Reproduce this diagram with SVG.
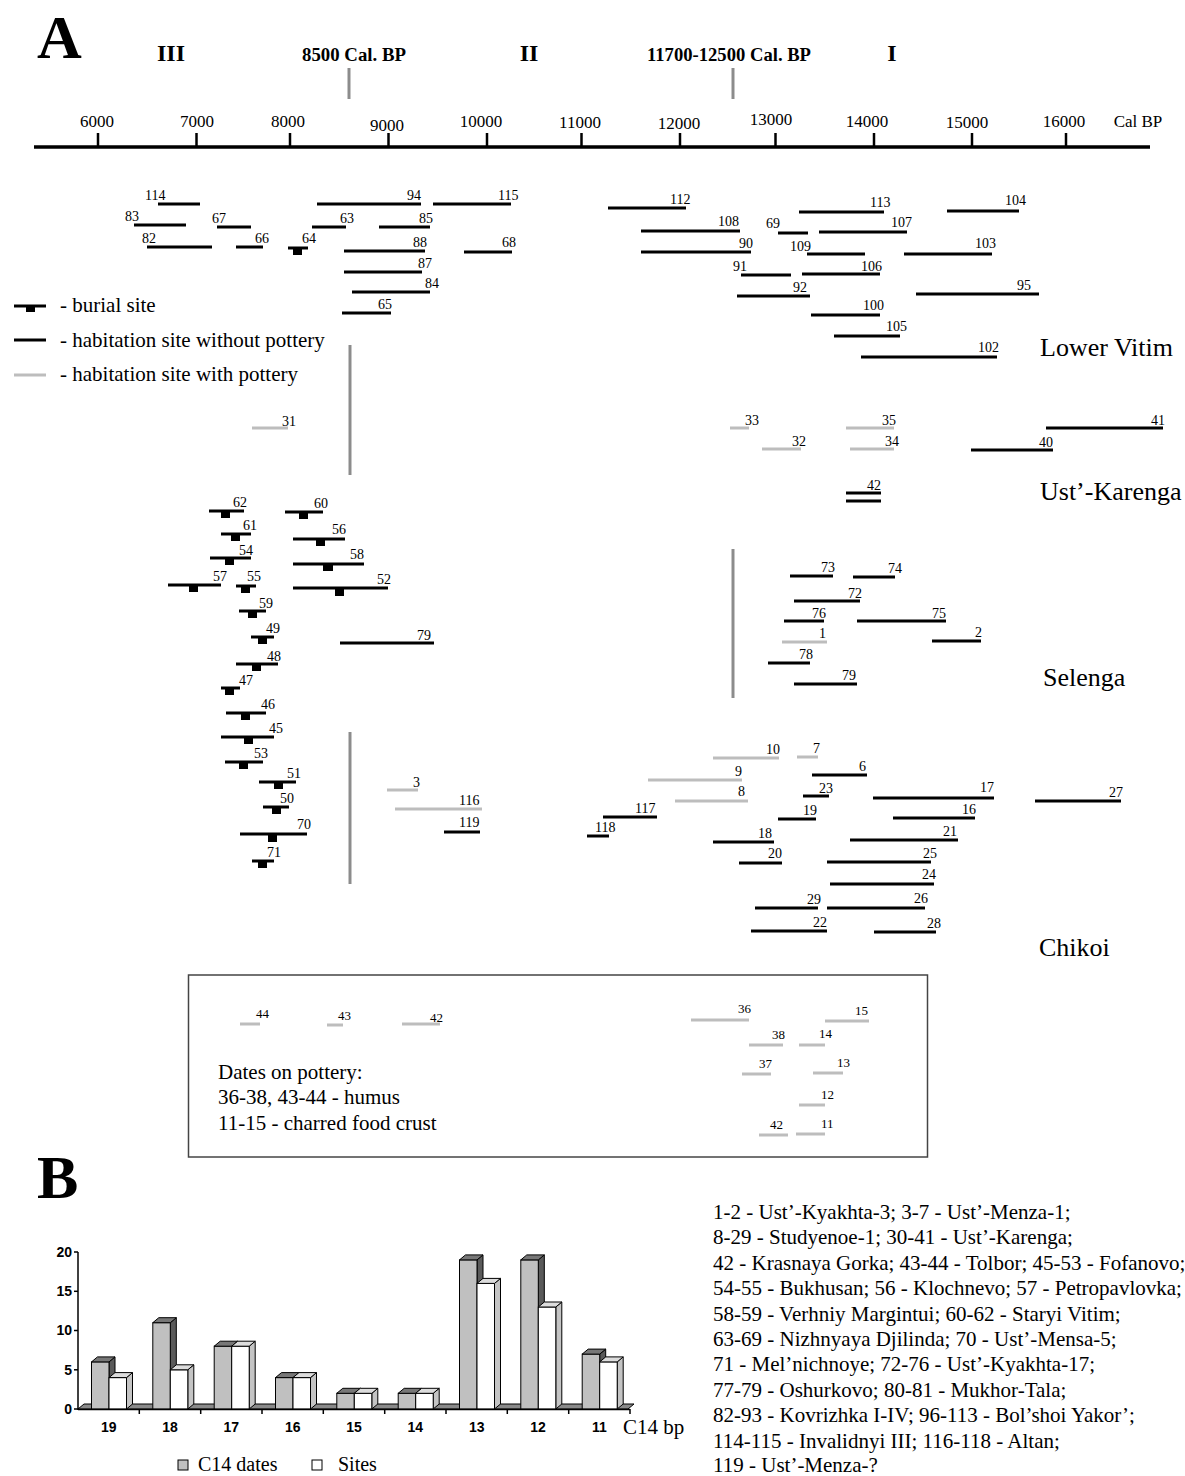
<svg xmlns="http://www.w3.org/2000/svg" width="1185" height="1476" viewBox="0 0 1185 1476">
<style>
.k{stroke:#000;stroke-width:3}
.g{stroke:#bdbdbd;stroke-width:3}
.d{stroke:#8c8c8c;stroke-width:3}
.blk{fill:#000}
text{font-family:"Liberation Serif","Times New Roman",serif;fill:#000}
.n{font-size:14px}
.s{font-size:13px}
.tk{font-size:17px;text-anchor:middle}
.hb{font-size:18px;font-weight:bold}
.rm{font-size:24px;font-weight:bold;text-anchor:middle}
.big{font-size:62px;font-weight:bold}
.reg{font-size:26px}
.t{font-size:21px}
.l{font-size:21px}
.lg{font-size:20px}
.ch{font-family:"Liberation Sans",Arial,sans-serif;font-size:14px;font-weight:bold}
.gf{fill:#c0c0c0;stroke:#000;stroke-width:1}
.gt{fill:#777;stroke:#000;stroke-width:1}
.gs{fill:#5a5a5a;stroke:#000;stroke-width:1}
.wf{fill:#fff;stroke:#000;stroke-width:1}
.wt{fill:#dcdcdc;stroke:#000;stroke-width:1}
.ws{fill:#c4c4c4;stroke:#000;stroke-width:1}
</style>

<!-- Header / axis -->
<g id="header">
<text class="big" x="37" y="58">A</text>
<text class="rm" x="171" y="61">III</text>
<text class="hb" x="302" y="61" textLength="104" lengthAdjust="spacingAndGlyphs">8500 Cal. BP</text>
<text class="rm" x="529" y="61">II</text>
<text class="hb" x="647" y="61" textLength="164" lengthAdjust="spacingAndGlyphs">11700-12500 Cal. BP</text>
<text class="rm" x="892" y="61">I</text>
<line class="d" x1="349" y1="68" x2="349" y2="99"/>
<line class="d" x1="733" y1="68" x2="733" y2="99"/>
</g>
<g id="axis">
<line x1="34" y1="147" x2="1150" y2="147" stroke="#000" stroke-width="3.5"/>
<g stroke="#000" stroke-width="2.5">
<line x1="98" y1="133" x2="98" y2="147"/>
<line x1="196.5" y1="133" x2="196.5" y2="147"/>
<line x1="290" y1="133" x2="290" y2="147"/>
<line x1="388.5" y1="133" x2="388.5" y2="147"/>
<line x1="487" y1="133" x2="487" y2="147"/>
<line x1="581.5" y1="133" x2="581.5" y2="147"/>
<line x1="680" y1="133" x2="680" y2="147"/>
<line x1="775.5" y1="133" x2="775.5" y2="147"/>
<line x1="874" y1="133" x2="874" y2="147"/>
<line x1="972" y1="133" x2="972" y2="147"/>
<line x1="1066" y1="133" x2="1066" y2="147"/>
</g>
<text class="tk" x="97" y="127">6000</text>
<text class="tk" x="197" y="127">7000</text>
<text class="tk" x="288" y="127">8000</text>
<text class="tk" x="387" y="131">9000</text>
<text class="tk" x="481" y="127">10000</text>
<text class="tk" x="580" y="128">11000</text>
<text class="tk" x="679" y="129">12000</text>
<text class="tk" x="771" y="125">13000</text>
<text class="tk" x="867" y="127">14000</text>
<text class="tk" x="967" y="128">15000</text>
<text class="tk" x="1064" y="127">16000</text>
<text class="tk" x="1138" y="127">Cal BP</text>
</g>

<!-- Dividers -->
<g id="connectors">
<line class="d" x1="350" y1="345" x2="350" y2="475"/>
<line class="d" x1="350" y1="732" x2="350" y2="884"/>
<line class="d" x1="733" y1="549" x2="733" y2="698"/>
</g>

<!-- Legend -->
<g id="legend">
<line class="k" x1="14" y1="306" x2="46" y2="306"/><rect class="blk" x="26" y="306" width="9" height="6"/>
<text class="t" x="60" y="312">- burial site</text>
<line class="k" x1="14" y1="340" x2="46" y2="340"/>
<text class="t" x="60" y="347">- habitation site without pottery</text>
<line class="g" x1="14" y1="375" x2="46" y2="375"/>
<text class="t" x="60" y="381">- habitation site with pottery</text>
</g>

<!-- Region labels -->
<g id="regions">
<text class="reg" x="1040" y="356">Lower Vitim</text>
<text class="reg" x="1040" y="500">Ust’-Karenga</text>
<text class="reg" x="1043" y="686">Selenga</text>
<text class="reg" x="1039" y="956">Chikoi</text>
</g>

<!-- Lower Vitim -->
<g id="lower-vitim">
<g id="n114"><line class="k" x1="158" y1="204" x2="200" y2="204"/><text class="n" x="145" y="200">114</text></g>
<g id="n94"><line class="k" x1="317" y1="204" x2="421" y2="204"/><text class="n" x="407" y="200">94</text></g>
<g id="n115"><line class="k" x1="433" y1="204" x2="511" y2="204"/><text class="n" x="498" y="200">115</text></g>
<g id="n83"><line class="k" x1="134" y1="225" x2="186" y2="225"/><text class="n" x="125" y="221">83</text></g>
<g id="n67"><line class="k" x1="217" y1="227" x2="251" y2="227"/><text class="n" x="212" y="223">67</text></g>
<g id="n63"><line class="k" x1="312" y1="227" x2="346" y2="227"/><text class="n" x="340" y="223">63</text></g>
<g id="n85"><line class="k" x1="379" y1="227" x2="430" y2="227"/><text class="n" x="419" y="223">85</text></g>
<g id="n82"><line class="k" x1="147" y1="247" x2="212" y2="247"/><text class="n" x="142" y="243">82</text></g>
<g id="n66"><line class="k" x1="236" y1="247" x2="263" y2="247"/><text class="n" x="255" y="243">66</text></g>
<g id="n64"><line class="k" x1="288" y1="248" x2="308" y2="248"/><rect class="blk" x="293" y="248" width="9" height="7"/><text class="n" x="302" y="243">64</text></g>
<g id="n88"><line class="k" x1="344" y1="251" x2="425" y2="251"/><text class="n" x="413" y="247">88</text></g>
<g id="n68"><line class="k" x1="464" y1="252" x2="512" y2="252"/><text class="n" x="502" y="247">68</text></g>
<g id="n87"><line class="k" x1="344" y1="272" x2="422" y2="272"/><text class="n" x="418" y="268">87</text></g>
<g id="n84"><line class="k" x1="352" y1="292" x2="430" y2="292"/><text class="n" x="425" y="288">84</text></g>
<g id="n65"><line class="k" x1="342" y1="313" x2="391" y2="313"/><text class="n" x="378" y="309">65</text></g>
<g id="n112"><line class="k" x1="608" y1="208" x2="686" y2="208"/><text class="n" x="670" y="204">112</text></g>
<g id="n113"><line class="k" x1="799" y1="212" x2="884" y2="212"/><text class="n" x="870" y="207">113</text></g>
<g id="n104"><line class="k" x1="947" y1="211" x2="1019" y2="211"/><text class="n" x="1005" y="205">104</text></g>
<g id="n108"><line class="k" x1="641" y1="231" x2="740" y2="231"/><text class="n" x="718" y="226">108</text></g>
<g id="n69"><line class="k" x1="778" y1="233" x2="808" y2="233"/><text class="n" x="766" y="228">69</text></g>
<g id="n107"><line class="k" x1="819" y1="232" x2="907" y2="232"/><text class="n" x="891" y="227">107</text></g>
<g id="n90"><line class="k" x1="641" y1="252" x2="751" y2="252"/><text class="n" x="739" y="248">90</text></g>
<g id="n109"><line class="k" x1="807" y1="254" x2="865" y2="254"/><text class="n" x="790" y="251">109</text></g>
<g id="n103"><line class="k" x1="904" y1="254" x2="992" y2="254"/><text class="n" x="975" y="248">103</text></g>
<g id="n91"><line class="k" x1="741" y1="275" x2="791" y2="275"/><text class="n" x="733" y="271">91</text></g>
<g id="n106"><line class="k" x1="802" y1="274" x2="880" y2="274"/><text class="n" x="861" y="271">106</text></g>
<g id="n92"><line class="k" x1="737" y1="296" x2="810" y2="296"/><text class="n" x="793" y="292">92</text></g>
<g id="n95"><line class="k" x1="916" y1="294" x2="1039" y2="294"/><text class="n" x="1017" y="290">95</text></g>
<g id="n100"><line class="k" x1="811" y1="315" x2="880" y2="315"/><text class="n" x="863" y="310">100</text></g>
<g id="n105"><line class="k" x1="834" y1="336" x2="900" y2="336"/><text class="n" x="886" y="331">105</text></g>
<g id="n102"><line class="k" x1="861" y1="357" x2="997" y2="357"/><text class="n" x="978" y="352">102</text></g>
</g>

<!-- Ust'-Karenga -->
<g id="ust-karenga">
<g id="n31"><line class="g" x1="252" y1="428" x2="288" y2="428"/><text class="n" x="282" y="426">31</text></g>
<g id="n33"><line class="g" x1="730" y1="428" x2="749" y2="428"/><text class="n" x="745" y="425">33</text></g>
<g id="n35"><line class="g" x1="846" y1="428" x2="894" y2="428"/><text class="n" x="882" y="425">35</text></g>
<g id="n41"><line class="k" x1="1046" y1="428" x2="1163" y2="428"/><text class="n" x="1151" y="425">41</text></g>
<g id="n32"><line class="g" x1="762" y1="449" x2="801" y2="449"/><text class="n" x="792" y="446">32</text></g>
<g id="n34"><line class="g" x1="850" y1="449" x2="894" y2="449"/><text class="n" x="885" y="446">34</text></g>
<g id="n40"><line class="k" x1="971" y1="450" x2="1053" y2="450"/><text class="n" x="1039" y="447">40</text></g>
<g id="n42a"><line class="k" x1="846" y1="493" x2="881" y2="493"/><line class="k" x1="846" y1="501" x2="881" y2="501"/><text class="n" x="867" y="490">42</text></g>
</g>

<!-- Selenga -->
<g id="selenga">
<g id="n62"><line class="k" x1="209" y1="511" x2="244" y2="511"/><rect class="blk" x="221" y="511" width="9" height="7"/><text class="n" x="233" y="507">62</text></g>
<g id="n60"><line class="k" x1="285" y1="512" x2="323" y2="512"/><rect class="blk" x="299" y="512" width="9" height="7"/><text class="n" x="314" y="508">60</text></g>
<g id="n61"><line class="k" x1="221" y1="534" x2="251" y2="534"/><rect class="blk" x="231" y="534" width="9" height="7"/><text class="n" x="243" y="530">61</text></g>
<g id="n56"><line class="k" x1="293" y1="539" x2="345" y2="539"/><rect class="blk" x="316" y="539" width="9" height="7"/><text class="n" x="332" y="534">56</text></g>
<g id="n54"><line class="k" x1="210" y1="558" x2="251" y2="558"/><rect class="blk" x="225" y="558" width="9" height="7"/><text class="n" x="239" y="555">54</text></g>
<g id="n58"><line class="k" x1="293" y1="564" x2="364" y2="564"/><rect class="blk" x="323" y="564" width="10" height="7"/><text class="n" x="350" y="559">58</text></g>
<g id="n57"><line class="k" x1="168" y1="585" x2="221" y2="585"/><rect class="blk" x="189" y="585" width="9" height="7"/><text class="n" x="213" y="581">57</text></g>
<g id="n55"><line class="k" x1="236" y1="586" x2="256" y2="586"/><rect class="blk" x="241" y="586" width="9" height="7"/><text class="n" x="247" y="581">55</text></g>
<g id="n52"><line class="k" x1="293" y1="588" x2="388" y2="588"/><rect class="blk" x="335" y="588" width="9" height="8"/><text class="n" x="377" y="584">52</text></g>
<g id="n59"><line class="k" x1="239" y1="611" x2="266" y2="611"/><rect class="blk" x="248" y="611" width="9" height="7"/><text class="n" x="259" y="608">59</text></g>
<g id="n49"><line class="k" x1="251" y1="637" x2="274" y2="637"/><rect class="blk" x="258" y="637" width="9" height="7"/><text class="n" x="266" y="633">49</text></g>
<g id="n79a"><line class="k" x1="340" y1="643" x2="434" y2="643"/><text class="n" x="417" y="640">79</text></g>
<g id="n48"><line class="k" x1="236" y1="664" x2="278" y2="664"/><rect class="blk" x="252" y="664" width="9" height="7"/><text class="n" x="267" y="661">48</text></g>
<g id="n47"><line class="k" x1="221" y1="688" x2="240" y2="688"/><rect class="blk" x="225" y="688" width="9" height="7"/><text class="n" x="239" y="685">47</text></g>
<g id="n46"><line class="k" x1="226" y1="713" x2="266" y2="713"/><rect class="blk" x="241" y="713" width="9" height="7"/><text class="n" x="261" y="709">46</text></g>
<g id="n45"><line class="k" x1="221" y1="737" x2="274" y2="737"/><rect class="blk" x="244" y="737" width="9" height="7"/><text class="n" x="269" y="733">45</text></g>
<g id="n53"><line class="k" x1="225" y1="762" x2="263" y2="762"/><rect class="blk" x="239" y="762" width="9" height="7"/><text class="n" x="254" y="758">53</text></g>
<g id="n73"><line class="k" x1="790" y1="576" x2="833" y2="576"/><text class="n" x="821" y="572">73</text></g>
<g id="n74"><line class="k" x1="853" y1="577" x2="895" y2="577"/><text class="n" x="888" y="573">74</text></g>
<g id="n72"><line class="k" x1="794" y1="601" x2="860" y2="601"/><text class="n" x="848" y="598">72</text></g>
<g id="n76"><line class="k" x1="784" y1="621" x2="824" y2="621"/><text class="n" x="812" y="618">76</text></g>
<g id="n75"><line class="k" x1="857" y1="621" x2="946" y2="621"/><text class="n" x="932" y="618">75</text></g>
<g id="n1"><line class="g" x1="782" y1="642" x2="827" y2="642"/><text class="n" x="819" y="638">1</text></g>
<g id="n2"><line class="k" x1="932" y1="641" x2="981" y2="641"/><text class="n" x="975" y="637">2</text></g>
<g id="n78"><line class="k" x1="768" y1="663" x2="810" y2="663"/><text class="n" x="799" y="659">78</text></g>
<g id="n79b"><line class="k" x1="794" y1="684" x2="857" y2="684"/><text class="n" x="842" y="680">79</text></g>
</g>

<!-- Chikoi -->
<g id="chikoi">
<g id="n51"><line class="k" x1="259" y1="782" x2="296" y2="782"/><rect class="blk" x="274" y="782" width="9" height="7"/><text class="n" x="287" y="778">51</text></g>
<g id="n50"><line class="k" x1="263" y1="807" x2="289" y2="807"/><rect class="blk" x="272" y="807" width="9" height="7"/><text class="n" x="280" y="803">50</text></g>
<g id="n70"><line class="k" x1="240" y1="834" x2="307" y2="834"/><rect class="blk" x="268" y="834" width="9" height="8"/><text class="n" x="297" y="829">70</text></g>
<g id="n71"><line class="k" x1="252" y1="861" x2="274" y2="861"/><rect class="blk" x="258" y="861" width="9" height="7"/><text class="n" x="267" y="857">71</text></g>
<g id="n3"><line class="g" x1="387" y1="790" x2="418" y2="790"/><text class="n" x="413" y="787">3</text></g>
<g id="n116"><line class="g" x1="395" y1="809" x2="482" y2="809"/><text class="n" x="459" y="805">116</text></g>
<g id="n119"><line class="k" x1="444" y1="832" x2="480" y2="832"/><text class="n" x="459" y="827">119</text></g>
<g id="n117"><line class="k" x1="603" y1="817" x2="657" y2="817"/><text class="n" x="635" y="813">117</text></g>
<g id="n118"><line class="k" x1="587" y1="836" x2="609" y2="836"/><text class="n" x="595" y="832">118</text></g>
<g id="n10"><line class="g" x1="713" y1="758" x2="779" y2="758"/><text class="n" x="766" y="754">10</text></g>
<g id="n7"><line class="g" x1="797" y1="757" x2="818" y2="757"/><text class="n" x="813" y="753">7</text></g>
<g id="n9"><line class="g" x1="648" y1="780" x2="742" y2="780"/><text class="n" x="735" y="776">9</text></g>
<g id="n6"><line class="k" x1="812" y1="775" x2="867" y2="775"/><text class="n" x="859" y="771">6</text></g>
<g id="n8"><line class="g" x1="675" y1="801" x2="748" y2="801"/><text class="n" x="738" y="796">8</text></g>
<g id="n23"><line class="k" x1="803" y1="796" x2="829" y2="796"/><text class="n" x="819" y="793">23</text></g>
<g id="n17"><line class="k" x1="873" y1="798" x2="994" y2="798"/><text class="n" x="980" y="792">17</text></g>
<g id="n27"><line class="k" x1="1035" y1="801" x2="1121" y2="801"/><text class="n" x="1109" y="797">27</text></g>
<g id="n19"><line class="k" x1="778" y1="819" x2="816" y2="819"/><text class="n" x="803" y="815">19</text></g>
<g id="n16"><line class="k" x1="893" y1="818" x2="975" y2="818"/><text class="n" x="962" y="814">16</text></g>
<g id="n18"><line class="k" x1="713" y1="842" x2="774" y2="842"/><text class="n" x="758" y="838">18</text></g>
<g id="n21"><line class="k" x1="850" y1="840" x2="958" y2="840"/><text class="n" x="943" y="836">21</text></g>
<g id="n20"><line class="k" x1="739" y1="863" x2="782" y2="863"/><text class="n" x="768" y="858">20</text></g>
<g id="n25"><line class="k" x1="827" y1="862" x2="931" y2="862"/><text class="n" x="923" y="858">25</text></g>
<g id="n24"><line class="k" x1="830" y1="884" x2="934" y2="884"/><text class="n" x="922" y="879">24</text></g>
<g id="n29"><line class="k" x1="755" y1="908" x2="818" y2="908"/><text class="n" x="807" y="904">29</text></g>
<g id="n26"><line class="k" x1="827" y1="908" x2="925" y2="908"/><text class="n" x="914" y="903">26</text></g>
<g id="n22"><line class="k" x1="751" y1="931" x2="827" y2="931"/><text class="n" x="813" y="927">22</text></g>
<g id="n28"><line class="k" x1="874" y1="932" x2="936" y2="932"/><text class="n" x="927" y="928">28</text></g>
</g>

<!-- Pottery box -->
<g id="pottery-box">
<rect x="188.5" y="975" width="739" height="182" fill="none" stroke="#444" stroke-width="1.5"/>
<g id="n44"><line class="g" x1="240" y1="1024" x2="260" y2="1024"/><text class="s" x="256" y="1018">44</text></g>
<g id="n43"><line class="g" x1="327" y1="1025" x2="343" y2="1025"/><text class="s" x="338" y="1020">43</text></g>
<g id="n42b"><line class="g" x1="402" y1="1024" x2="440" y2="1024"/><text class="s" x="430" y="1022">42</text></g>
<g id="n36"><line class="g" x1="691" y1="1020" x2="749" y2="1020"/><text class="s" x="738" y="1013">36</text></g>
<g id="n15"><line class="g" x1="825" y1="1021" x2="869" y2="1021"/><text class="s" x="855" y="1015">15</text></g>
<g id="n38"><line class="g" x1="749" y1="1045" x2="783" y2="1045"/><text class="s" x="772" y="1039">38</text></g>
<g id="n14"><line class="g" x1="799" y1="1045" x2="825" y2="1045"/><text class="s" x="819" y="1038">14</text></g>
<g id="n37"><line class="g" x1="742" y1="1074" x2="771" y2="1074"/><text class="s" x="759" y="1068">37</text></g>
<g id="n13"><line class="g" x1="813" y1="1073" x2="843" y2="1073"/><text class="s" x="837" y="1067">13</text></g>
<g id="n12"><line class="g" x1="799" y1="1105" x2="825" y2="1105"/><text class="s" x="821" y="1099">12</text></g>
<g id="n42c"><line class="g" x1="759" y1="1135" x2="788" y2="1135"/><text class="s" x="770" y="1129">42</text></g>
<g id="n11"><line class="g" x1="796" y1="1134" x2="825" y2="1134"/><text class="s" x="821" y="1128">11</text></g>
<text class="t" x="218" y="1079">Dates on pottery:</text>
<text class="t" x="218" y="1104">36-38, 43-44 - humus</text>
<text class="t" x="218" y="1130">11-15 - charred food crust</text>
</g>

<!-- Chart B -->
<g id="chart-b">
<text class="big" x="37" y="1198">B</text>
<polygon points="78,1409 628,1409 634,1404 84,1404" fill="#8a8a8a" stroke="#000" stroke-width="1"/>
<g id="bar19">
<polygon class="gs" points="109,1361.9 115,1356.9 115,1404 109,1409"/><rect class="gf" x="91.5" y="1361.9" width="17.5" height="47.1"/><polygon class="gt" points="91.5,1361.9 97.5,1356.9 115,1356.9 109,1361.9"/>
<polygon class="ws" points="126.5,1377.6 132.5,1372.6 132.5,1404 126.5,1409"/><rect class="wf" x="109" y="1377.6" width="17.5" height="31.4"/><polygon class="wt" points="109,1377.6 115,1372.6 132.5,1372.6 126.5,1377.6"/>
</g>
<g id="bar18">
<polygon class="gs" points="170.3,1322.7 176.3,1317.7 176.3,1404 170.3,1409"/><rect class="gf" x="152.8" y="1322.7" width="17.5" height="86.3"/><polygon class="gt" points="152.8,1322.7 158.8,1317.7 176.3,1317.7 170.3,1322.7"/>
<polygon class="ws" points="187.8,1369.8 193.8,1364.8 193.8,1404 187.8,1409"/><rect class="wf" x="170.3" y="1369.8" width="17.5" height="39.2"/><polygon class="wt" points="170.3,1369.8 176.3,1364.8 193.8,1364.8 187.8,1369.8"/>
</g>
<g id="bar17">
<polygon class="gs" points="231.7,1346.2 237.7,1341.2 237.7,1404 231.7,1409"/><rect class="gf" x="214.2" y="1346.2" width="17.5" height="62.8"/><polygon class="gt" points="214.2,1346.2 220.2,1341.2 237.7,1341.2 231.7,1346.2"/>
<polygon class="ws" points="249.2,1346.2 255.2,1341.2 255.2,1404 249.2,1409"/><rect class="wf" x="231.7" y="1346.2" width="17.5" height="62.8"/><polygon class="wt" points="231.7,1346.2 237.7,1341.2 255.2,1341.2 249.2,1346.2"/>
</g>
<g id="bar16">
<polygon class="gs" points="293,1377.6 299,1372.6 299,1404 293,1409"/><rect class="gf" x="275.5" y="1377.6" width="17.5" height="31.4"/><polygon class="gt" points="275.5,1377.6 281.5,1372.6 299,1372.6 293,1377.6"/>
<polygon class="ws" points="310.5,1377.6 316.5,1372.6 316.5,1404 310.5,1409"/><rect class="wf" x="293" y="1377.6" width="17.5" height="31.4"/><polygon class="wt" points="293,1377.6 299,1372.6 316.5,1372.6 310.5,1377.6"/>
</g>
<g id="bar15">
<polygon class="gs" points="354.3,1393.3 360.3,1388.3 360.3,1404 354.3,1409"/><rect class="gf" x="336.8" y="1393.3" width="17.5" height="15.7"/><polygon class="gt" points="336.8,1393.3 342.8,1388.3 360.3,1388.3 354.3,1393.3"/>
<polygon class="ws" points="371.8,1393.3 377.8,1388.3 377.8,1404 371.8,1409"/><rect class="wf" x="354.3" y="1393.3" width="17.5" height="15.7"/><polygon class="wt" points="354.3,1393.3 360.3,1388.3 377.8,1388.3 371.8,1393.3"/>
</g>
<g id="bar14">
<polygon class="gs" points="415.7,1393.3 421.7,1388.3 421.7,1404 415.7,1409"/><rect class="gf" x="398.2" y="1393.3" width="17.5" height="15.7"/><polygon class="gt" points="398.2,1393.3 404.2,1388.3 421.7,1388.3 415.7,1393.3"/>
<polygon class="ws" points="433.2,1393.3 439.2,1388.3 439.2,1404 433.2,1409"/><rect class="wf" x="415.7" y="1393.3" width="17.5" height="15.7"/><polygon class="wt" points="415.7,1393.3 421.7,1388.3 439.2,1388.3 433.2,1393.3"/>
</g>
<g id="bar13">
<polygon class="gs" points="477,1259.9 483,1254.9 483,1404 477,1409"/><rect class="gf" x="459.5" y="1259.9" width="17.5" height="149.1"/><polygon class="gt" points="459.5,1259.9 465.5,1254.9 483,1254.9 477,1259.9"/>
<polygon class="ws" points="494.5,1283.4 500.5,1278.4 500.5,1404 494.5,1409"/><rect class="wf" x="477" y="1283.4" width="17.5" height="125.6"/><polygon class="wt" points="477,1283.4 483,1278.4 500.5,1278.4 494.5,1283.4"/>
</g>
<g id="bar12">
<polygon class="gs" points="538.3,1259.9 544.3,1254.9 544.3,1404 538.3,1409"/><rect class="gf" x="520.8" y="1259.9" width="17.5" height="149.1"/><polygon class="gt" points="520.8,1259.9 526.8,1254.9 544.3,1254.9 538.3,1259.9"/>
<polygon class="ws" points="555.8,1307 561.8,1302 561.8,1404 555.8,1409"/><rect class="wf" x="538.3" y="1307" width="17.5" height="102"/><polygon class="wt" points="538.3,1307 544.3,1302 561.8,1302 555.8,1307"/>
</g>
<g id="bar11">
<polygon class="gs" points="599.7,1354.1 605.7,1349.1 605.7,1404 599.7,1409"/><rect class="gf" x="582.2" y="1354.1" width="17.5" height="54.9"/><polygon class="gt" points="582.2,1354.1 588.2,1349.1 605.7,1349.1 599.7,1354.1"/>
<polygon class="ws" points="617.2,1361.9 623.2,1356.9 623.2,1404 617.2,1409"/><rect class="wf" x="599.7" y="1361.9" width="17.5" height="47.1"/><polygon class="wt" points="599.7,1361.9 605.7,1356.9 623.2,1356.9 617.2,1361.9"/>
</g>
<g stroke="#000" stroke-width="1.5">
<line x1="78" y1="1252" x2="78" y2="1410"/>
<line x1="78" y1="1409.5" x2="630" y2="1409.5"/>
<line x1="74" y1="1252" x2="78" y2="1252"/>
<line x1="74" y1="1291.3" x2="78" y2="1291.3"/>
<line x1="74" y1="1330.5" x2="78" y2="1330.5"/>
<line x1="74" y1="1369.8" x2="78" y2="1369.8"/>
<line x1="74" y1="1409" x2="78" y2="1409"/>
<line x1="139.3" y1="1409" x2="139.3" y2="1414"/>
<line x1="200.7" y1="1409" x2="200.7" y2="1414"/>
<line x1="262" y1="1409" x2="262" y2="1414"/>
<line x1="323.3" y1="1409" x2="323.3" y2="1414"/>
<line x1="384.7" y1="1409" x2="384.7" y2="1414"/>
<line x1="446" y1="1409" x2="446" y2="1414"/>
<line x1="507.3" y1="1409" x2="507.3" y2="1414"/>
<line x1="568.7" y1="1409" x2="568.7" y2="1414"/>
<line x1="630" y1="1409" x2="630" y2="1414"/>
</g>
<g text-anchor="end">
<text class="ch" x="72" y="1257">20</text>
<text class="ch" x="72" y="1296">15</text>
<text class="ch" x="72" y="1335">10</text>
<text class="ch" x="72" y="1375">5</text>
<text class="ch" x="72" y="1414">0</text>
</g>
<g text-anchor="middle">
<text class="ch" x="108.7" y="1432">19</text>
<text class="ch" x="170" y="1432">18</text>
<text class="ch" x="231.3" y="1432">17</text>
<text class="ch" x="292.7" y="1432">16</text>
<text class="ch" x="354" y="1432">15</text>
<text class="ch" x="415.3" y="1432">14</text>
<text class="ch" x="476.7" y="1432">13</text>
<text class="ch" x="538" y="1432">12</text>
<text class="ch" x="599.3" y="1432">11</text>
</g>
<text class="t" x="623" y="1434">C14 bp</text>
<rect x="178" y="1460" width="10" height="10" fill="#c0c0c0" stroke="#000" stroke-width="1"/>
<text class="lg" x="198" y="1471">C14 dates</text>
<rect x="312" y="1460" width="10" height="10" fill="#fff" stroke="#000" stroke-width="1"/>
<text class="lg" x="338" y="1471">Sites</text>
</g>

<!-- Site list -->
<g id="site-list">
<text class="l" x="713" y="1219">1-2 - Ust’-Kyakhta-3; 3-7 - Ust’-Menza-1;</text>
<text class="l" x="713" y="1244">8-29 - Studyenoe-1; 30-41 - Ust’-Karenga;</text>
<text class="l" x="713" y="1270">42 - Krasnaya Gorka; 43-44 - Tolbor; 45-53 - Fofanovo;</text>
<text class="l" x="713" y="1295">54-55 - Bukhusan; 56 - Klochnevo; 57 - Petropavlovka;</text>
<text class="l" x="713" y="1321">58-59 - Verhniy Margintui; 60-62 - Staryi Vitim;</text>
<text class="l" x="713" y="1346">63-69 - Nizhnyaya Djilinda; 70 - Ust’-Mensa-5;</text>
<text class="l" x="713" y="1371">71 - Mel’nichnoye; 72-76 - Ust’-Kyakhta-17;</text>
<text class="l" x="713" y="1397">77-79 - Oshurkovo; 80-81 - Mukhor-Tala;</text>
<text class="l" x="713" y="1422">82-93 - Kovrizhka I-IV; 96-113 - Bol’shoi Yakor’;</text>
<text class="l" x="713" y="1448">114-115 - Invalidnyi III; 116-118 - Altan;</text>
<text class="l" x="713" y="1472">119 - Ust’-Menza-?</text>
</g>
</svg>
